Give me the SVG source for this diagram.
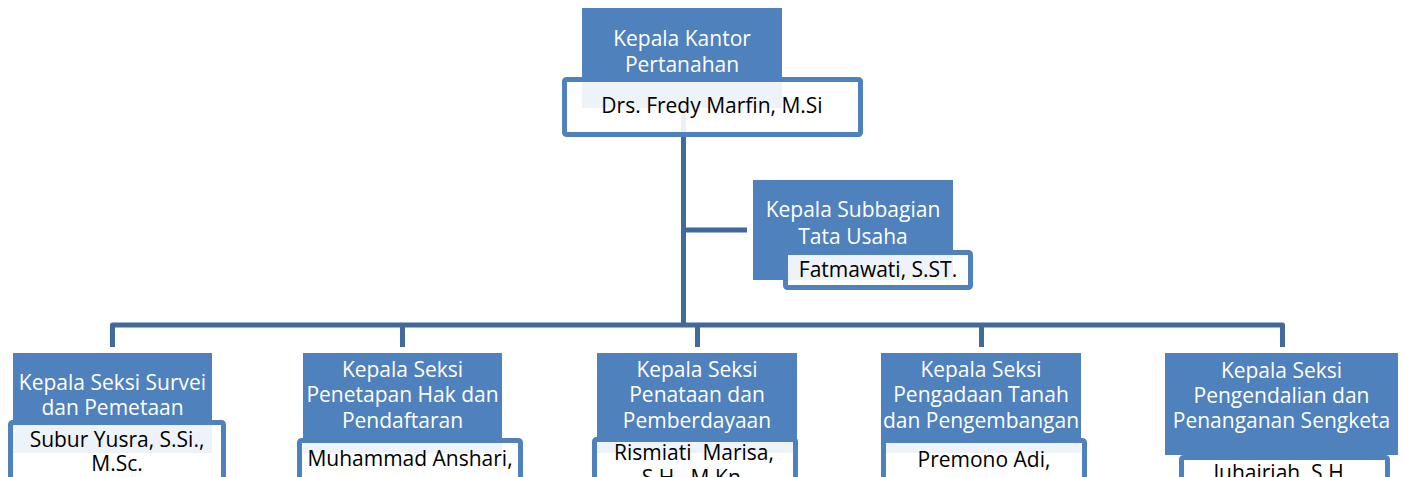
<svg xmlns="http://www.w3.org/2000/svg" width="1403" height="477" viewBox="0 0 1403 477">
<style>
.bg{fill:#ffffff}
.title{fill:#4f81bd}
.name{fill:#ffffff;fill-opacity:0.9;stroke:#4f81bd;stroke-width:5}
.wt{font-family:"Open Sans","Noto Sans",sans-serif;font-size:21px;fill:#ffffff;text-anchor:middle}
.bt{font-family:"Open Sans","Noto Sans",sans-serif;font-size:21px;fill:#000000;text-anchor:middle}
.conn{fill:none;stroke:#41699c;stroke-width:5;stroke-linejoin:round}
</style>
<rect class="bg" x="0" y="0" width="1403" height="477"/>
<g id="connectors">
<path class="conn" d="M683.5,108 V325"/>
<path class="conn" d="M683.5,230 H747"/>
<path class="conn" d="M112.5,347 V325 H1282.5 V347"/>
<path class="conn" d="M402.5,325 V347"/>
<path class="conn" d="M697.5,325 V347"/>
<path class="conn" d="M981.5,325 V347"/>
</g>
<g id="kepala-kantor">
<rect class="title" x="582" y="8" width="200" height="100"/>
<text class="wt" x="682" y="46">Kepala Kantor</text>
<text class="wt" x="682" y="72">Pertanahan</text>
<rect class="name" x="564.5" y="79.5" width="296" height="55" rx="2"/>
<text class="bt" x="712" y="113">Drs. Fredy Marfin, M.Si</text>
</g>
<g id="subbagian-tu">
<rect class="title" x="753" y="180" width="200" height="100"/>
<text class="wt" x="853" y="217">Kepala Subbagian</text>
<text class="wt" x="853" y="244">Tata Usaha</text>
<rect class="name" x="785.5" y="252.5" width="185" height="35" rx="2"/>
<text class="bt" x="878" y="277">Fatmawati, S.ST.</text>
</g>
<g id="seksi-survei">
<rect class="title" x="13" y="353" width="199" height="100"/>
<text class="wt" x="112.5" y="390">Kepala Seksi Survei</text>
<text class="wt" x="112.5" y="415">dan Pemetaan</text>
<rect class="name" x="10.5" y="422.5" width="213" height="70" rx="2"/>
<text class="bt" x="117" y="447">Subur Yusra, S.Si.,</text>
<text class="bt" x="117" y="471">M.Sc.</text>
</g>
<g id="seksi-penetapan">
<rect class="title" x="303" y="353" width="199" height="100"/>
<text class="wt" x="402.5" y="377">Kepala Seksi</text>
<text class="wt" x="402.5" y="402">Penetapan Hak dan</text>
<text class="wt" x="402.5" y="428">Pendaftaran</text>
<rect class="name" x="299.5" y="440.5" width="221" height="60" rx="2"/>
<text class="bt" x="410" y="466">Muhammad Anshari,</text>
</g>
<g id="seksi-penataan">
<rect class="title" x="597" y="353" width="200" height="100"/>
<text class="wt" x="697" y="377">Kepala Seksi</text>
<text class="wt" x="697" y="402">Penataan dan</text>
<text class="wt" x="697" y="428">Pemberdayaan</text>
<rect class="name" x="594.5" y="439.5" width="201" height="60" rx="2"/>
<text class="bt" x="694" y="460" xml:space="preserve">Rismiati  Marisa,</text>
<text class="bt" x="694" y="485">S.H., M.Kn.</text>
</g>
<g id="seksi-pengadaan">
<rect class="title" x="881" y="353" width="200" height="100"/>
<text class="wt" x="981" y="377">Kepala Seksi</text>
<text class="wt" x="981" y="402">Pengadaan Tanah</text>
<text class="wt" x="981" y="428">dan Pengembangan</text>
<rect class="name" x="883.5" y="440.5" width="201" height="60" rx="2"/>
<text class="bt" x="984" y="467">Premono Adi,</text>
</g>
<g id="seksi-pengendalian">
<rect class="title" x="1165" y="353" width="233" height="102"/>
<text class="wt" x="1281.5" y="378">Kepala Seksi</text>
<text class="wt" x="1281.5" y="403">Pengendalian dan</text>
<text class="wt" x="1281.5" y="428">Penanganan Sengketa</text>
<rect class="name" x="1181.5" y="457.5" width="206" height="60" rx="2"/>
<text class="bt" x="1284" y="480">Juhairiah, S.H.,</text>
</g>
</svg>
